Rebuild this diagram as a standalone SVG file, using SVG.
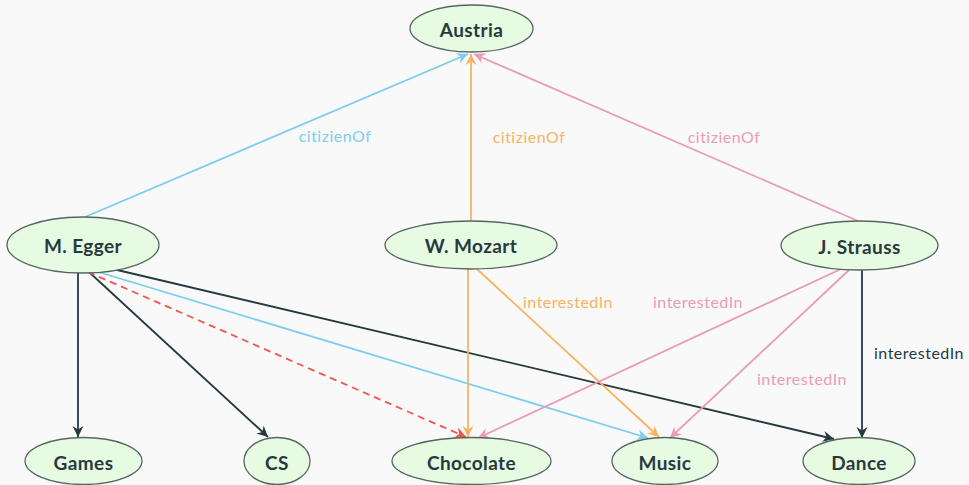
<svg xmlns="http://www.w3.org/2000/svg" width="969" height="485" viewBox="0 0 969 485">
  <style>
    .node ellipse { fill: #e6fbe2; stroke: #55655f; stroke-width: 1.3; }
    .node text { font-family: Lato, "Open Sans", "DejaVu Sans", sans-serif; font-weight: bold; font-size: 19px; letter-spacing: 0.4px; fill: #263a3e; text-anchor: middle; dominant-baseline: central; }
    .edge { fill: none; stroke-width: 1.8; }
    .lbl { font-family: Lato, "Open Sans", "DejaVu Sans", sans-serif; font-size: 16px; letter-spacing: 0.5px; text-anchor: middle; }
    .blue { stroke: #7ccdee; }
    .orange { stroke: #f8b262; }
    .pink { stroke: #e99cb4; }
    .dark { stroke: #253a40; }
    .red { stroke: #f2554f; stroke-dasharray: 7 5; }
  </style>
  <defs>
    <marker id="ah-blue" viewBox="-12 -6 13 12" refX="0" refY="0" markerWidth="13" markerHeight="12" markerUnits="userSpaceOnUse" orient="auto"><path d="M0,0 L-11,-5.5 L-7.5,0 L-11,5.5 Z" fill="#7ccdee"/></marker>
    <marker id="ah-orange" viewBox="-12 -6 13 12" refX="0" refY="0" markerWidth="13" markerHeight="12" markerUnits="userSpaceOnUse" orient="auto"><path d="M0,0 L-11,-5.5 L-7.5,0 L-11,5.5 Z" fill="#f8b262"/></marker>
    <marker id="ah-pink" viewBox="-12 -6 13 12" refX="0" refY="0" markerWidth="13" markerHeight="12" markerUnits="userSpaceOnUse" orient="auto"><path d="M0,0 L-11,-5.5 L-7.5,0 L-11,5.5 Z" fill="#e99cb4"/></marker>
    <marker id="ah-dark" viewBox="-12 -6 13 12" refX="0" refY="0" markerWidth="13" markerHeight="12" markerUnits="userSpaceOnUse" orient="auto"><path d="M0,0 L-11,-5.5 L-7.5,0 L-11,5.5 Z" fill="#253a40"/></marker>
    <marker id="ah-red" viewBox="-12 -6 13 12" refX="0" refY="0" markerWidth="13" markerHeight="12" markerUnits="userSpaceOnUse" orient="auto"><path d="M0,0 L-11,-5.5 L-7.5,0 L-11,5.5 Z" fill="#f2554f"/></marker>
  </defs>
  <rect width="969" height="485" fill="#f9f9f9"/>

  <g id="connectors">
    <!-- citizienOf -->
    <line class="edge blue" x1="85" y1="217" x2="468" y2="54" marker-end="url(#ah-blue)"/>
    <line class="edge orange" x1="471" y1="221" x2="471" y2="54" marker-end="url(#ah-orange)"/>
    <line class="edge pink" x1="858" y1="221" x2="474" y2="54" marker-end="url(#ah-pink)"/>
    <!-- M. Egger -->
    <line class="edge dark" x1="78" y1="273" x2="78" y2="437" marker-end="url(#ah-dark)"/>
    <line class="edge dark" x1="89" y1="272" x2="268" y2="437" marker-end="url(#ah-dark)"/>
    <line class="edge red" x1="88" y1="272" x2="466" y2="437" marker-end="url(#ah-red)"/>
    <line class="edge blue" x1="95" y1="271" x2="648" y2="438" marker-end="url(#ah-blue)"/>
    <line class="edge dark" x1="113" y1="269" x2="834" y2="439" marker-end="url(#ah-dark)"/>
    <!-- W. Mozart -->
    <line class="edge orange" x1="468" y1="269" x2="468" y2="437" marker-end="url(#ah-orange)"/>
    <line class="edge orange" x1="477" y1="269" x2="659" y2="437" marker-end="url(#ah-orange)"/>
    <!-- J. Strauss -->
    <line class="edge pink" x1="841" y1="269" x2="478" y2="438" marker-end="url(#ah-pink)"/>
    <line class="edge pink" x1="849" y1="270" x2="670" y2="438" marker-end="url(#ah-pink)"/>
    <line class="edge dark" x1="862" y1="270" x2="862" y2="438" marker-end="url(#ah-dark)"/>
    <!-- labels -->
    <text class="lbl" x="335" y="142" fill="#7ccdee">citizienOf</text>
    <text class="lbl" x="529" y="143" fill="#f8b262">citizienOf</text>
    <text class="lbl" x="724" y="143" fill="#e99cb4">citizienOf</text>
    <text class="lbl" x="568" y="308" fill="#f8b262">interestedIn</text>
    <text class="lbl" x="698" y="308" fill="#e99cb4">interestedIn</text>
    <text class="lbl" x="802" y="385" fill="#e99cb4">interestedIn</text>
    <text class="lbl" x="919" y="359" fill="#253a40">interestedIn</text>
  </g>

  <g id="austria" class="node"><ellipse cx="471.5" cy="28.5" rx="61.5" ry="23.5"/><text x="471.5" y="29">Austria</text></g>
  <g id="egger" class="node"><ellipse cx="83" cy="245" rx="76" ry="28"/><text x="83" y="245">M. Egger</text></g>
  <g id="mozart" class="node"><ellipse cx="471" cy="245" rx="86" ry="24"/><text x="471" y="245">W. Mozart</text></g>
  <g id="strauss" class="node"><ellipse cx="859.5" cy="245.5" rx="78.5" ry="24.5"/><text x="859.5" y="246">J. Strauss</text></g>
  <g id="games" class="node"><ellipse cx="83.5" cy="461" rx="58.5" ry="23.5"/><text x="83.5" y="462">Games</text></g>
  <g id="cs" class="node"><ellipse cx="277" cy="461" rx="33" ry="23.5"/><text x="277" y="462">CS</text></g>
  <g id="chocolate" class="node"><ellipse cx="471.5" cy="461" rx="79.5" ry="23.5"/><text x="471.5" y="462">Chocolate</text></g>
  <g id="music" class="node"><ellipse cx="665" cy="461" rx="53" ry="23.5"/><text x="665" y="462">Music</text></g>
  <g id="dance" class="node"><ellipse cx="859" cy="461" rx="56" ry="23.5"/><text x="859" y="462">Dance</text></g>
</svg>
